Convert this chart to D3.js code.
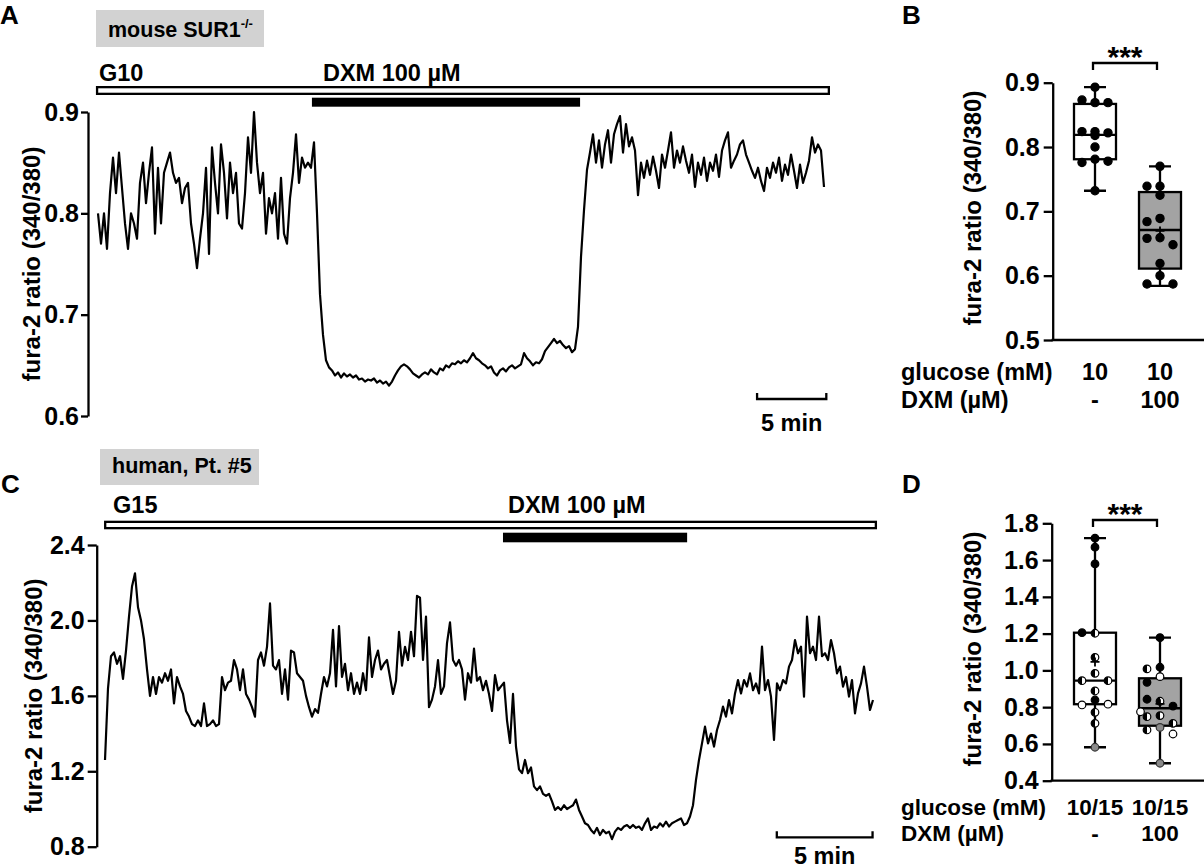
<!DOCTYPE html>
<html><head><meta charset="utf-8">
<script src="https://cdn.jsdelivr.net/npm/d3@7"></script>
<style>
body{margin:0;background:#fff;}
svg text{font-family:"Liberation Sans",Arial,sans-serif;font-weight:bold;fill:#000;}
</style></head><body>
<svg id="fig" width="1204" height="868" xmlns="http://www.w3.org/2000/svg"></svg>
<script>
// ---------------- DATA ----------------
// Panel A: mouse SUR1-/- trace, fura-2 ratio sampled every dtA seconds
const dtA = 13;
const traceA = [
0.800,0.770,0.800,0.765,0.820,0.855,0.820,0.860,0.825,0.790,
0.765,0.800,0.790,0.775,0.830,0.850,0.810,0.840,0.865,0.780,
0.845,0.790,0.840,0.850,0.860,0.840,0.830,0.835,0.810,0.825,
0.830,0.790,0.770,0.746,0.775,0.800,0.845,0.760,0.865,0.830,
0.800,0.868,0.840,0.795,0.850,0.820,0.840,0.790,0.785,0.820,
0.875,0.840,0.900,0.850,0.820,0.840,0.780,0.815,0.800,0.820,
0.775,0.835,0.780,0.770,0.815,0.840,0.878,0.830,0.855,0.845,
0.850,0.845,0.870,0.800,0.720,0.680,0.655,0.648,0.645,0.640,
0.643,0.638,0.642,0.639,0.641,0.638,0.640,0.636,0.637,0.634,
0.636,0.635,0.637,0.633,0.635,0.632,0.634,0.630,0.634,0.640,
0.645,0.649,0.651,0.649,0.646,0.642,0.640,0.638,0.641,0.643,
0.641,0.646,0.643,0.641,0.647,0.645,0.650,0.648,0.652,0.651,
0.654,0.652,0.655,0.653,0.657,0.662,0.657,0.655,0.652,0.650,
0.647,0.649,0.643,0.640,0.645,0.647,0.644,0.648,0.650,0.647,
0.649,0.651,0.662,0.657,0.654,0.650,0.653,0.652,0.656,0.664,
0.668,0.672,0.676,0.672,0.674,0.670,0.667,0.669,0.663,0.666,
0.688,0.757,0.803,0.843,0.860,0.878,0.850,0.872,0.845,0.868,
0.882,0.850,0.878,0.888,0.896,0.860,0.888,0.866,0.875,0.862,
0.818,0.850,0.835,0.852,0.838,0.856,0.842,0.825,0.858,0.845,
0.862,0.880,0.845,0.862,0.850,0.866,0.852,0.840,0.858,0.826,
0.850,0.838,0.855,0.832,0.850,0.842,0.858,0.836,0.862,0.872,
0.880,0.845,0.852,0.858,0.868,0.872,0.858,0.850,0.842,0.835,
0.845,0.832,0.822,0.845,0.835,0.850,0.840,0.855,0.832,0.848,
0.838,0.858,0.842,0.825,0.848,0.830,0.840,0.852,0.875,0.860,
0.868,0.862,0.826];
const ticksA = [0.6,0.7,0.8,0.9];
const perfusionA = [
  {label:"G10", start:-9, end:3172, kind:"open"},
  {label:"DXM 100 \u00b5M", start:927, end:2089, kind:"solid"}];
const scaleBarA = {start:2856, length:300, label:"5 min"};

// Panel C: human, Pt. #5 trace
const dtC = 9.4;
const traceC = [
1.26,1.64,1.81,1.83,1.77,1.81,1.69,1.84,2.02,2.18,
2.25,2.07,2.00,1.90,1.74,1.60,1.70,1.61,1.70,1.67,
1.72,1.68,1.74,1.56,1.70,1.65,1.61,1.52,1.49,1.45,
1.44,1.47,1.44,1.56,1.44,1.45,1.47,1.44,1.45,1.70,
1.63,1.67,1.68,1.79,1.74,1.63,1.74,1.61,1.58,1.54,
1.49,1.79,1.83,1.76,1.86,2.09,1.76,1.74,1.79,1.61,
1.74,1.58,1.84,1.83,1.72,1.70,1.68,1.60,1.54,1.49,
1.53,1.51,1.61,1.70,1.65,1.72,1.95,1.65,1.97,1.70,
1.77,1.63,1.72,1.61,1.67,1.61,1.72,1.63,1.91,1.70,
1.79,1.84,1.74,1.77,1.79,1.70,1.61,1.68,1.94,1.76,
1.86,1.79,1.94,1.81,2.13,2.12,1.79,2.02,1.54,1.58,
1.65,1.79,1.61,1.65,1.88,1.99,1.79,1.76,1.79,1.74,
1.58,1.72,1.67,1.85,1.68,1.70,1.63,1.68,1.61,1.52,
1.71,1.63,1.65,1.67,1.47,1.35,1.61,1.33,1.21,1.19,
1.26,1.19,1.22,1.12,1.10,1.12,1.08,1.07,1.08,1.04,
0.995,1.01,0.995,1.02,1.00,1.01,1.02,1.05,0.995,0.96,
0.924,0.915,0.889,0.871,0.90,0.862,0.889,0.871,0.88,0.84,
0.88,0.90,0.889,0.907,0.915,0.90,0.915,0.90,0.907,0.889,
0.924,0.95,0.889,0.907,0.90,0.924,0.907,0.933,0.907,0.924,
0.933,0.942,0.95,0.915,0.924,0.96,1.02,1.154,1.26,1.348,
1.437,1.348,1.40,1.331,1.419,1.472,1.543,1.49,1.578,1.507,
1.613,1.684,1.613,1.684,1.649,1.719,1.63,1.666,1.613,1.861,
1.63,1.684,1.596,1.366,1.666,1.63,1.684,1.666,1.755,1.79,
1.896,1.826,1.861,1.596,2.02,1.826,1.861,1.79,2.02,1.81,
1.826,1.79,1.896,1.826,1.719,1.755,1.649,1.70,1.596,1.684,
1.507,1.613,1.666,1.755,1.649,1.525,1.578];
const ticksC = [0.8,1.2,1.6,2.0,2.4];
const perfusionC = [
  {label:"G15", start:-3, end:2419, kind:"open"},
  {label:"DXM 100 \u00b5M", start:1247, end:1824, kind:"solid"}];
const scaleBarC = {start:2105, length:300, label:"5 min"};

// Panel B: box plots (mouse)
const groupsB = ["control","DXM"];
const glucoseB = ["10","10"];
const dxmB = ["-","100"];
const statsB = [
  {min:0.732, q1:0.781, median:0.819, q3:0.867, max:0.893},
  {min:0.584, q1:0.611, median:0.671, q3:0.730, max:0.770}];
const pointsB_control = [0.893,0.869,0.873,0.869,0.824,0.824,0.822,0.818,0.800,0.781,0.776,0.778,0.732];
const pointsB_dxm = [0.770,0.739,0.739,0.725,0.689,0.684,0.659,0.658,0.648,0.619,0.600,0.587,0.587];
const ticksB = [0.5,0.6,0.7,0.8,0.9];

// Panel D: box plots (human), with donor categories
const groupsD = ["control","DXM"];
const glucoseD = ["10/15","10/15"];
const dxmD = ["-","100"];
const statsD = [
  {min:0.582, q1:0.816, median:0.944, q3:1.205, max:1.719},
  {min:0.495, q1:0.699, median:0.794, q3:0.957, max:1.178}];
const pointsD_control = [1.719,1.670,1.579,1.202,1.205,1.071,0.984,0.944,0.944,0.888,0.839,0.812,0.816,0.772,0.712,0.582];
const donorsD_control = ["black","black","black","half","black","half","half","half","half","half","black","white","white","half","half","gray"];
const pointsD_dxm = [1.178,1.017,1.008,0.966,0.935,0.832,0.843,0.806,0.754,0.748,0.775,0.690,0.712,0.676,0.654,0.495];
const donorsD_dxm = ["black","black","half","white","black","half","black","black","half","half","white","gray","half","half","white","gray"];
const ticksD = [0.4,0.6,0.8,1.0,1.2,1.4,1.6,1.8];

const yLabel = "fura-2 ratio (340/380)";

// ---------------- DRAWING ----------------
const svg = d3.select("#fig");
const FONT = 23.5, TICKFONT = 25, SW = 2.3;

function styleAxis(g){
  g.attr("font-size",TICKFONT).attr("font-family","'Liberation Sans',Arial,sans-serif").attr("font-weight","bold");
  g.selectAll("path,line").attr("stroke","#000").attr("stroke-width",SW);
  g.selectAll("text").attr("fill","#000");
}
function txt(x,y,s,opts={}){
  const t = svg.append("text").attr("x",x).attr("y",y).text(s).attr("font-size",opts.size||FONT);
  if(opts.anchor) t.attr("text-anchor",opts.anchor);
  return t;
}
function yTitle(x,y){
  svg.append("text").attr("transform",`translate(${x},${y}) rotate(-90)`)
    .attr("text-anchor","middle").attr("font-size",24).text(yLabel);
}

// --- trace panel ---
function tracePanel(cfg){
  const n = cfg.trace.length;
  const x = d3.scaleLinear().domain([0,(n-1)*cfg.dt]).range(cfg.xRange);
  const y = d3.scaleLinear().domain(cfg.yDomain).range(cfg.yRange);
  const ax = svg.append("g").attr("transform",`translate(${cfg.axisX},0)`)
    .call(d3.axisLeft(y).tickValues(cfg.ticks).tickFormat(d3.format(".1f")).tickSize(cfg.tickSize).tickPadding(cfg.tickPad).tickSizeOuter(0));
  styleAxis(ax);
  yTitle(cfg.titleX, (cfg.yRange[0]+cfg.yRange[1])/2);
  const line = d3.line().x((d,i)=>x(i*cfg.dt)).y(d=>y(d));
  svg.append("path").datum(cfg.trace).attr("d",line).attr("fill","none")
    .attr("stroke","#000").attr("stroke-width",2.2).attr("stroke-linejoin","round");
  // perfusion bars
  cfg.perfusion.forEach((p,k)=>{
    const x0 = x(p.start), x1 = x(p.end);
    if(p.kind==="open"){
      svg.append("rect").attr("x",x0+SW/2).attr("y",cfg.openBar[0]+SW/2)
        .attr("width",x1-x0-SW).attr("height",cfg.openBar[1]-cfg.openBar[0]-SW)
        .attr("fill","#fff").attr("stroke","#000").attr("stroke-width",SW);
    } else {
      svg.append("rect").attr("x",x0).attr("y",cfg.solidBar[0])
        .attr("width",x1-x0).attr("height",cfg.solidBar[1]-cfg.solidBar[0]).attr("fill","#000");
    }
    txt(x0+cfg.labelOffsets[k], cfg.labelY, p.label);
  });
  // scale bar
  const sb = cfg.scaleBar, sx0 = x(sb.start), sx1 = x(sb.start+sb.length);
  svg.append("path").attr("d",`M${sx0},${cfg.sbY-6}V${cfg.sbY}H${sx1}V${cfg.sbY-6}`)
    .attr("fill","none").attr("stroke","#000").attr("stroke-width",SW);
  txt((sx0+sx1)/2, cfg.sbTextY, sb.label, {anchor:"middle"});
}

tracePanel({trace:traceA, dt:dtA, xRange:[98,824], yDomain:[0.6,0.9], yRange:[416,112],
  axisX:88, ticks:ticksA, tickSize:7, tickPad:2, titleX:40,
  perfusion:perfusionA, openBar:[86,95], solidBar:[97.7,106.7], labelY:81, labelOffsets:[3,11],
  scaleBar:scaleBarA, sbY:399, sbTextY:431});

tracePanel({trace:traceC, dt:dtC, xRange:[105,873], yDomain:[0.8,2.4], yRange:[846.7,545],
  axisX:96.7, ticks:ticksC, tickSize:9, tickPad:3, titleX:42,
  perfusion:perfusionC, openBar:[520.7,529.3], solidBar:[532.7,542.3], labelY:513, labelOffsets:[9,5],
  scaleBar:scaleBarC, sbY:837.3, sbTextY:864});

// gray labels
function grayLabel(x0,y0,w,h,base){
  svg.append("rect").attr("x",x0).attr("y",y0).attr("width",w).attr("height",h).attr("fill","#d2d2d2");
  return svg.append("text").attr("x",x0+12).attr("y",base).attr("font-size",21.5);
}
const gA = grayLabel(96,10,168,37,37);
gA.append("tspan").text("mouse SUR1");
gA.append("tspan").text("-/-").attr("font-size",13).attr("dy",-9);
grayLabel(100,449,159,36,473).text("human, Pt. #5");

// panel letters
txt(0,24,"A",{size:26}); txt(902,24,"B",{size:26});
txt(1,493,"C",{size:26}); txt(902,493,"D",{size:26});

// --- box panels ---
function dodge(values, y, cx, r){
  const placed = [];
  const cands = [0,-13,13,-6.5,6.5,-19.5,19.5];
  return values.map(v=>{
    const py = y(v);
    let off = 0;
    for(const c of cands){
      if(placed.every(p=>Math.hypot(p.x-c,p.y-py) >= 2*r+0.4)){ off=c; break; }
    }
    placed.push({x:off,y:py});
    return {x:cx+off, y:py, v};
  });
}
function boxPanel(cfg){
  const y = d3.scaleLinear().domain(cfg.yDomain).range(cfg.yRange);
  const x = d3.scalePoint().domain(cfg.groups).range(cfg.xCenters);
  const ax = svg.append("g").attr("transform",`translate(${cfg.axisX},0)`)
    .call(d3.axisLeft(y).tickValues(cfg.ticks).tickFormat(d3.format(".1f")).tickSize(9).tickPadding(4).tickSizeOuter(0));
  styleAxis(ax);
  svg.append("line").attr("x1",cfg.axisX-SW/2).attr("x2",1204).attr("y1",y(cfg.yDomain[0])).attr("y2",y(cfg.yDomain[0]))
    .attr("stroke","#000").attr("stroke-width",SW);
  yTitle(981, cfg.titleY);
  const bw = 42, cw = 22;
  cfg.groups.forEach((g,k)=>{
    const s = cfg.stats[k], cx = x(g);
    const G = svg.append("g");
    G.append("path").attr("d",`M${cx},${y(s.max)}V${y(s.q3)}M${cx},${y(s.q1)}V${y(s.min)}M${cx-cw/2},${y(s.max)}H${cx+cw/2}M${cx-cw/2},${y(s.min)}H${cx+cw/2}`)
      .attr("stroke","#000").attr("stroke-width",SW).attr("fill","none");
    G.append("rect").attr("x",cx-bw/2).attr("y",y(s.q3)).attr("width",bw).attr("height",y(s.q1)-y(s.q3))
      .attr("fill",k===0?"#fff":"#a3a3a3").attr("stroke","#000").attr("stroke-width",SW);
    G.append("line").attr("x1",cx-bw/2).attr("x2",cx+bw/2).attr("y1",y(s.median)).attr("y2",y(s.median))
      .attr("stroke","#000").attr("stroke-width",SW);
    const r = cfg.r;
    const pts = dodge(cfg.points[k], y, cx, r);
    const types = cfg.types ? cfg.types[k] : null;
    pts.forEach((p,j)=>{
      const t = types ? types[j] : "black";
      const fill = t==="black"?"#000":t==="gray"?"#8a8a8a":"#fff";
      G.append("circle").attr("cx",p.x).attr("cy",p.y).attr("r",r).attr("fill",fill)
        .attr("stroke",t==="gray"?"#333":"#000").attr("stroke-width",1.2);
      if(t==="half"){
        G.append("path").attr("d",`M${p.x},${p.y-r}A${r},${r} 0 0 0 ${p.x},${p.y+r}Z`).attr("fill","#000");
      }
    });
    const m = d3.mean(cfg.points[k]);
    G.append("path").attr("d",`M${cx-4.5},${y(m)}H${cx+4.5}M${cx},${y(m)-4.5}V${y(m)+4.5}`)
      .attr("stroke","#000").attr("stroke-width",1.8);
    txt(cx, cfg.row1Y, cfg.glucose[k], {anchor:"middle", size:cfg.rowFont});
    txt(cx, cfg.row2Y, cfg.dxm[k], {anchor:"middle", size:cfg.rowFont});
  });
  txt(901, cfg.row1Y, "glucose (mM)", {size:cfg.rowFont});
  txt(901, cfg.row2Y, "DXM (\u00b5M)", {size:cfg.rowFont});
  // significance bracket
  const bx0 = x(cfg.groups[0])-2, bx1 = x(cfg.groups[1])-3;
  svg.append("path").attr("d",`M${bx0},${cfg.brY+7}V${cfg.brY}H${bx1}V${cfg.brY+7}`)
    .attr("fill","none").attr("stroke","#000").attr("stroke-width",SW);
  txt((bx0+bx1)/2, cfg.brY+4, "***", {anchor:"middle", size:30});
}

boxPanel({groups:groupsB, stats:statsB, points:[pointsB_control,pointsB_dxm], glucose:glucoseB, dxm:dxmB,
  yDomain:[0.5,0.9], yRange:[340,82.7], xCenters:[1095,1160], axisX:1052.7, ticks:ticksB,
  titleY:208, row1Y:380, row2Y:408, brY:63, r:4.1, rowFont:23.5});

boxPanel({groups:groupsD, stats:statsD, points:[pointsD_control,pointsD_dxm], types:[donorsD_control,donorsD_dxm],
  glucose:glucoseD, dxm:dxmD,
  yDomain:[0.4,1.8], yRange:[780.7,523.3], xCenters:[1095,1160], axisX:1051.7, ticks:ticksD,
  titleY:649, row1Y:815, row2Y:841, brY:520, r:3.8, rowFont:22.5});
</script>
</body></html>
